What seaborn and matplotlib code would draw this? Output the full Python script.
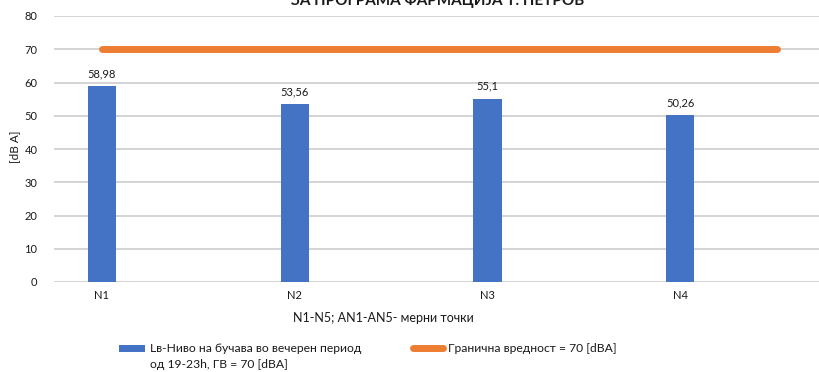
import matplotlib
matplotlib.use("Agg")
import matplotlib.pyplot as plt
import seaborn as sns
import pandas as pd
from matplotlib.patches import Patch
from matplotlib.lines import Line2D

# Measurement points and evening noise levels
points = ["N1", "N2", "N3", "N4"]
levels = [58.98, 53.56, 55.1, 50.26]
limit_value = 70
y_ticks = [0, 10, 20, 30, 40, 50, 60, 70, 80]

title = "ЗА ПРОГРАМА ФАРМАЦИЈА Т. ПЕТРОВ"
x_label = "N1-N5; AN1-AN5- мерни точки"
y_label = "[dB A]"
bar_legend = ["Lв-Ниво на бучава во вечерен период", "од 19-23h, ГВ = 70 [dBA]"]
line_legend = "Гранична вредност = 70 [dBA]"

sns.set_theme(style="white")
plt.rcParams["font.family"] = ["Lato", "DejaVu Sans"]

BLUE = "#4472C4"
ORANGE = "#ED7D31"
GRID = "#C9C9C9"
TEXT = "#1a1a1a"
LEG_FS = 8.7
W, H = 819, 372

df = pd.DataFrame({"point": points, "level": levels})

fig = plt.figure(figsize=(W / 100, H / 100), dpi=100)
ax = fig.add_axes([54 / W, 90 / H, 1 - 54 / W, 266 / H])

sns.barplot(data=df, x="point", y="level", color=BLUE, width=0.146,
            saturation=1, linewidth=0, ax=ax, zorder=3)

# limit line across the measurement points
ax.hlines(limit_value, 0, len(points) - 0.5, color=ORANGE, linewidth=5,
          capstyle="round", zorder=4)

ax.set_ylim(0, 80)
ax.set_xlim(-0.249, 3.72)
ax.set_yticks(y_ticks)
ax.yaxis.grid(True, color=GRID, linewidth=1.1)
ax.set_axisbelow(True)
for s in ax.spines.values():
    s.set_visible(False)
ax.tick_params(axis="both", length=0, labelsize=8, colors=TEXT)
ax.tick_params(axis="y", pad=12)
ax.tick_params(axis="x", pad=6)
ax.set_xlabel("")
ax.set_ylabel("")

ax.bar_label(ax.containers[0],
             labels=[f"{v:g}".replace(".", ",") for v in levels],
             padding=5, fontsize=8, color=TEXT)

fig.text(15 / W, 1 - 147 / H, y_label, rotation=90, ha="center",
         va="center", fontsize=8.5, color=TEXT)
fig.text(383 / W, 1 - 318 / H, x_label, ha="center", va="center",
         fontsize=9, color=TEXT)
fig.text(438 / W, 1 - 5 / H, title, ha="center", va="baseline",
         fontsize=11, fontweight="bold", color=TEXT)

px = LEG_FS * 100 / 72


def place_legend(handles, labels, x_handle, y_center, length, target_text_x):
    """Add a figure legend, then nudge it so its text starts at target_text_x."""
    kw = dict(loc="center left", frameon=False, fontsize=LEG_FS,
              handlelength=length / px, handleheight=0.5,
              handletextpad=5 / px, labelcolor=TEXT, borderpad=0,
              borderaxespad=0, labelspacing=0.35)
    leg = fig.legend(handles=handles, labels=labels,
                     bbox_to_anchor=(x_handle / W, 1 - y_center / H), **kw)
    fig.canvas.draw()
    x0 = leg.get_texts()[0].get_window_extent().x0
    leg.remove()
    shift = target_text_x - x0
    return fig.legend(handles=handles, labels=labels,
                      bbox_to_anchor=((x_handle + shift) / W, 1 - y_center / H), **kw)


# bar series: label wraps onto a second row without its own key
leg1 = place_legend([Patch(color=BLUE, linewidth=0), Patch(alpha=0, linewidth=0)],
                    bar_legend, 119, 356.5, 26, 150)
for h in leg1.legend_handles[:1]:
    h.set_height(5)

place_legend([Line2D([0], [0], color=ORANGE, linewidth=5, solid_capstyle="round")],
             [line_legend], 412, 348, 30, 448)

fig.savefig("out.png", dpi=100, facecolor="white")
